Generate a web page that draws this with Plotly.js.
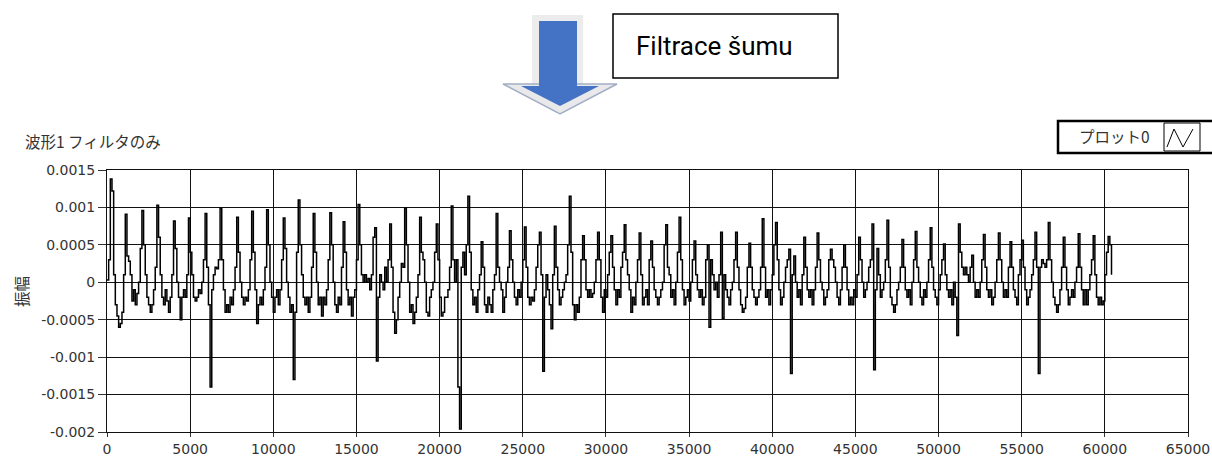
<!DOCTYPE html>
<html>
<head>
<meta charset="utf-8">
<script src="https://cdn.plot.ly/plotly-3.0.1.min.js"></script>
<style>
html,body{margin:0;padding:0;background:#fff;}
#chart{width:1212px;height:459px;}
</style>
</head>
<body>
<div id="chart"></div>
<script>
// Waveform sample spacing and start (x axis units)
const sampleStart = 0;
const sampleStep = 100;

// Filtered waveform amplitude, one value every 100 samples
const amplitude = [
 0.00003, 0.0003, 0.00138, 0.00122, 0.0001, -0.0003, -0.00045, -0.0006, -0.00055, -0.0004,
 0.0001, 0.00091, 0.00035, 0.00028, 0.0001, -0.00025, -0.0001, -0.0003, -0.00015, 0.0,
 0.00045, 0.00096, 0.0005, 0.0001, -0.0002, -0.0003, -0.0004, -0.0003, -0.0001, 0.0002,
 0.00103, 0.0006, 0.0001, -0.0002, -0.0003, -0.0001, -0.00025, -0.0004, -0.0002, 0.0001,
 0.00082, 0.00045, 0.0, -0.0002, -0.0005, -0.0002, -0.0001, -0.0002, 0.0001, 0.00086,
 0.0004, 0.0001, -0.0002, -0.00025, -0.0002, -0.0001, -0.00015, 0.0, 0.0003, 0.00092,
 0.0002, -0.0003, -0.0014, -0.0001, 0.0001, 0.0002, 0.00018, 0.0003, 0.00099, 0.0003,
 -0.0001, -0.0004, -0.0003, -0.0004, -0.0002, -0.0003, -0.0001, 0.0002, 0.00087, 0.0004,
 0.0, -0.0002, -0.0003, -0.0002, -0.00025, -0.0001, 0.0003, 0.00095, 0.0004, -0.0001,
 -0.00055, -0.0003, -0.0002, -0.0003, -0.0001, 0.0002, 0.00097, 0.0005, 0.0, -0.0002,
 -0.0004, -0.0002, -0.0001, -0.0003, -0.0001, 0.0003, 0.00086, 0.00045, 0.0, -0.0002,
 -0.0004, -0.0003, -0.0013, -0.0004, 0.0004, 0.0011, 0.0005, 0.0001, -0.0002, -0.0003,
 -0.0002, -0.0004, -0.0002, 0.0002, 0.00092, 0.0004, 0.0, -0.0003, -0.0002, -0.00045,
 -0.0002, -0.0003, -0.0001, 0.0003, 0.00093, 0.0005, 0.0, -0.0003, -0.0004, -0.0002,
 -0.0003, 0.0002, 0.00081, 0.0004, -0.0001, -0.0003, -0.0002, -0.00045, -0.0002, -0.0001,
 0.0003, 0.00104, 0.0005, 0.0001, 0.0, 0.0001, 0.0, 0.00005, -0.0001, 0.0001,
 0.0006, 0.00073, -0.00105, -0.0002, 0.0001, 0.0, -0.0001, 0.0002, 0.0, 0.0003,
 0.00078, 0.0002, -0.0004, -0.00068, -0.0005, -0.0002, 0.0, 0.00025, 0.0002, 0.00099,
 0.0005, 0.0, -0.0004, -0.0003, -0.00055, -0.0004, -0.0002, 0.0001, 0.00087, 0.0004,
 0.0003, 0.0, -0.0004, -0.00045, -0.0002, -0.0001, 0.0, 0.0004, 0.00078, 0.0003,
 -0.0002, -0.00045, -0.0004, -0.0002, -0.0002, -0.0001, 0.0002, 0.00102, 0.0003, 0.0,
 0.0003, -0.0014, -0.00196, 0.0002, 0.0004, 0.0001, 0.0005, 0.00115, 0.0004, -0.0001,
 -0.0003, -0.0002, -0.0004, -0.0001, 0.0001, 0.00054, 0.0002, -0.0003, -0.0004, -0.0002,
 -0.0003, -0.0004, -0.0001, 0.0001, 0.00092, 0.0002, 0.0, -0.0001, -0.0004, -0.0002,
 0.0, 0.0002, 0.00069, 0.0003, 0.0, -0.0002, -0.0003, -0.0001, -0.0002, 0.0,
 0.0003, 0.00074, 0.0002, -0.0002, -0.0003, -0.0002, -0.00025, -0.0001, 0.0002, 0.0005,
 0.00067, 0.0001, -0.00119, -0.0002, 0.0001, -0.0001, -0.0003, -0.00062, 0.0001, 0.00075,
 0.0002, -0.0001, -0.0003, -0.0002, -0.0001, 0.0, 0.0001, 0.0005, 0.00115, 0.0004,
 -0.0003, -0.0005, -0.0003, -0.0004, -0.0002, 0.0003, 0.00062, 0.0003, -0.0001, -0.0002,
 -0.0001, -0.0002, -0.00015, 0.0, 0.0003, 0.00067, 0.0003, -0.0002, -0.0004, -0.0001,
 -0.0002, 0.0001, 0.0004, 0.00062, 0.0002, -0.0001, -0.0003, -0.0001, -0.0002, 0.0002,
 0.0004, 0.00077, 0.0003, 0.0001, -0.0001, -0.0004, -0.0002, -0.0003, 0.0, 0.0003,
 0.00066, 0.0001, -0.0003, -0.0002, -0.0001, -0.0003, 0.0003, 0.00055, 0.0002, -0.0001,
 -0.0002, -0.0003, -0.0002, -0.0001, 0.0, 0.0005, 0.00077, 0.0002, 0.0001, -0.0002,
 -0.0001, -0.0003, 0.0, 0.0004, 0.00087, 0.0003, -0.0001, -0.0003, -0.0002, -0.0001,
 -0.00025, 0.0, 0.0003, 0.00055, 0.0001, -0.0001, -0.0002, -0.0001, -0.0003, -0.0002,
 0.0003, 0.0005, -0.0006, 0.0003, 0.0001, -0.0001, 0.0, -0.0002, 0.0001, 0.00067,
 -0.00048, 0.0001, -0.0001, -0.0002, -0.0003, -0.0001, 0.0, 0.0003, 0.00067, 0.0002,
 -0.0001, -0.0003, -0.0004, -0.00035, -0.0002, 0.0002, 0.00052, 0.0002, -0.0001, -0.0002,
 -0.0003, -0.0002, -0.0001, 0.0002, 0.00085, 0.0002, -0.0002, -0.0001, -0.0003, -0.0001,
 0.0001, 0.0005, 0.0008, 0.0003, -0.0001, -0.0003, -0.0002, 0.0, 0.0002, 0.0003,
 0.00044, -0.00122, 0.0001, 0.00035, 0.0, -0.0002, -0.0001, -0.0003, 0.0001, 0.0006,
 0.0002, -0.0001, -0.0002, -0.0001, -0.0003, -0.0001, 0.0002, 0.00066, 0.0003, 0.0,
 -0.0001, -0.0003, -0.0002, -0.0001, 0.0003, 0.00044, 0.0003, 0.0002, 0.0, -0.0002,
 -0.0003, -0.0001, 0.0002, 0.0005, 0.0002, -0.0001, -0.0003, -0.0002, -0.0003, -0.0001,
 -0.0002, 0.0001, 0.0006, 0.0003, 0.0, -0.0002, -0.0001, 0.0, 0.0002, 0.0003,
 0.00078, -0.00117, -0.0001, 0.00045, 0.0001, -0.0002, -0.0001, 0.0, 0.0003, 0.00083,
 0.0002, -0.0002, -0.0003, -0.0004, -0.0003, -0.0001, 0.0, 0.0002, 0.00057, 0.0002,
 -0.0001, -0.0002, -0.0001, -0.0003, 0.0, 0.0003, 0.00068, 0.0002, 0.0, -0.0002,
 -0.0003, -0.0001, -0.0002, 0.0, 0.0003, 0.00073, 0.0002, -0.0001, -0.0002, -0.0003,
 -0.0001, 0.0001, 0.0003, 0.00051, 0.0001, -0.0001, -0.0002, -0.0001, -0.0003, 0.0,
 -0.0002, -0.00071, 0.00078, 0.0004, 0.0002, 0.0001, 0.0002, 0.0001, 0.0, 0.0002,
 0.00036, 0.0, -0.0002, -0.0001, -0.0002, 0.0, 0.0003, 0.00064, 0.0002, -0.0001,
 -0.0002, -0.0001, -0.0003, -0.0002, 0.0, 0.0003, 0.00066, 0.0003, 0.0, -0.0002,
 -0.0001, -0.0002, 0.0002, 0.00054, 0.0002, -0.0001, -0.0002, -0.0003, 0.0001, 0.0003,
 0.00056, 0.0002, -0.0001, -0.0003, -0.0002, -0.0001, 0.0001, 0.0003, 0.00067, 0.0002,
 -0.00122, 0.0002, 0.0003, 0.00025, 0.0002, 0.0003, 0.0008, 0.0003, 0.0, -0.0002,
 -0.0003, -0.0004, -0.0003, -0.0001, 0.0002, 0.0006, 0.0002, -0.0001, -0.0003, -0.0002,
 -0.0001, -0.0002, 0.0, 0.0002, 0.00065, 0.0002, -0.0001, -0.0003, -0.0001, -0.0003,
 -0.0001, 0.0001, 0.0003, 0.00062, 0.0001, -0.0002, -0.0003, -0.0002, -0.0003, -0.00025,
 0.0001, 0.0004, 0.00061, 0.0005, 0.0001
];

// Axis ticks
const xTickVals = [0,5000,10000,15000,20000,25000,30000,35000,40000,45000,50000,55000,60000,65000];
const xTickText = ["0","5000","10000","15000","20000","25000","30000","35000","40000","45000","50000","55000","60000","65000"];
const yTickVals = [0.0015,0.001,0.0005,0,-0.0005,-0.001,-0.0015,-0.002];
const yTickText = ["0.0015","0.001","0.0005","0","-0.0005","-0.001","-0.0015","-0.002"];

// Texts
const chartTitle = "波形1 フィルタのみ";
const yTitle = "振幅";
const legendName = "プロット0";
const calloutText = "Filtrace šumu";

// pixel -> paper helpers (plot area: x 107..1188, y 170..432)
const L = 107, R = 1188, T = 170, B = 432;
const PX = x => (x - L) / (R - L);
const PY = y => (B - y) / (B - T);
function path(pts){ return 'M' + pts.map(p => PX(p[0]) + ',' + PY(p[1])).join(' L') + ' Z'; }
function pathOpen(pts){ return 'M' + pts.map(p => PX(p[0]) + ',' + PY(p[1])).join(' L'); }

const trace = {
  type: 'scatter', mode: 'lines',
  x0: sampleStart, dx: sampleStep, y: amplitude,
  line: {color: '#000', width: 1.5, shape: 'hv'},
  hoverinfo: 'skip', showlegend: false
};

const shapes = [
  {type:'rect', xref:'paper', yref:'paper', x0:PX(532), x1:PX(583), y0:PY(86), y1:PY(15), fillcolor:'#ececec', line:{width:0}, layer:'above'},
  {type:'path', xref:'paper', yref:'paper', path:path([[503,84],[617,84],[560,114]]), fillcolor:'#e9e9ec', line:{color:'#a3aec4', width:1.5}, layer:'above'},
  {type:'rect', xref:'paper', yref:'paper', x0:PX(539), x1:PX(577), y0:PY(90), y1:PY(21), fillcolor:'#4472C4', line:{width:0}, layer:'above'},
  {type:'path', xref:'paper', yref:'paper', path:path([[521,86],[599,86],[560,106]]), fillcolor:'#4472C4', line:{width:0}, layer:'above'},
  {type:'rect', xref:'paper', yref:'paper', x0:PX(613), x1:PX(838), y0:PY(78), y1:PY(14), fillcolor:'#fff', line:{color:'#000', width:1.5}, layer:'above'},
  {type:'rect', xref:'paper', yref:'paper', x0:PX(1058), x1:PX(1216), y0:PY(153), y1:PY(121), fillcolor:'#fff', line:{color:'#000', width:2.5}, layer:'above'},
  {type:'rect', xref:'paper', yref:'paper', x0:PX(1164), x1:PX(1200), y0:PY(151), y1:PY(123), fillcolor:'#fff', line:{color:'#000', width:1}, layer:'above'},
  {type:'path', xref:'paper', yref:'paper', path:pathOpen([[1167,147],[1174,129],[1183,147],[1193,129]]), line:{color:'#000', width:1}, layer:'above'}
];

const annotations = [
  {xref:'paper', yref:'paper', x:PX(23), y:PY(141), xanchor:'left', yanchor:'middle', showarrow:false,
   text:chartTitle, font:{family:'Noto Sans CJK JP, sans-serif', size:15.5, color:'#333'}},
  {xref:'paper', yref:'paper', x:PX(21), y:PY(292), xanchor:'center', yanchor:'middle', showarrow:false,
   text:yTitle, textangle:-90, font:{family:'Noto Sans CJK JP, sans-serif', size:15.5, color:'#333'}},
  {xref:'paper', yref:'paper', x:PX(1077), y:PY(136), xanchor:'left', yanchor:'middle', showarrow:false,
   text:legendName, font:{family:'Noto Sans CJK JP, sans-serif', size:15.5, color:'#333'}},
  {xref:'paper', yref:'paper', x:PX(634), y:PY(46), xanchor:'left', yanchor:'middle', showarrow:false,
   text:calloutText, font:{family:'Roboto, Open Sans, sans-serif', size:26, color:'#000'}}
];

const layout = {
  width: 1212, height: 459,
  margin: {l: L, r: 1212 - R, t: T, b: 459 - B, pad: 0},
  paper_bgcolor: '#fff', plot_bgcolor: '#fff',
  showlegend: false,
  xaxis: {
    range: [0, 65000], tickmode: 'array', tickvals: xTickVals, ticktext: xTickText,
    showgrid: true, gridcolor: '#111', gridwidth: 1, zeroline: false,
    showline: true, mirror: true, linecolor: '#111', linewidth: 1,
    ticks: 'outside', ticklen: 4, tickcolor: '#333',
    tickfont: {family:'DejaVu Sans, sans-serif', size:14, color:'#333'}
  },
  yaxis: {
    range: [-0.002, 0.0015], tickmode: 'array', tickvals: yTickVals, ticktext: yTickText,
    showgrid: true, gridcolor: '#111', gridwidth: 1, zeroline: false,
    showline: true, mirror: true, linecolor: '#111', linewidth: 1,
    ticks: 'outside', ticklen: 8, tickcolor: '#333',
    tickfont: {family:'DejaVu Sans, sans-serif', size:14, color:'#333'}
  },
  shapes: shapes,
  annotations: annotations
};

Plotly.newPlot('chart', [trace], layout, {staticPlot: true, displayModeBar: false});
</script>
</body>
</html>
